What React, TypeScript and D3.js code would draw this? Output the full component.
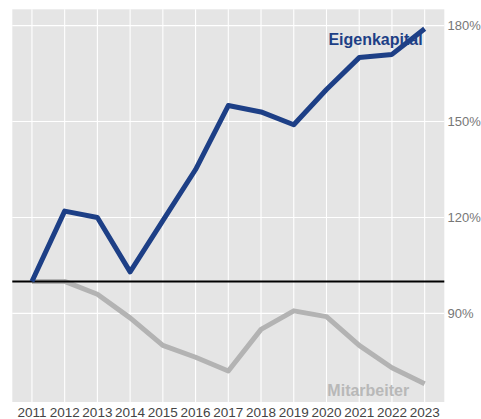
import React from "react";
import * as d3 from "d3";

const years = [2011, 2012, 2013, 2014, 2015, 2016, 2017, 2018, 2019, 2020, 2021, 2022, 2023];
const eigenkapital = [100, 122, 120, 103, 119, 135, 155, 153, 149, 160, 170, 171, 179];
const mitarbeiter = [100, 100, 96, 88.6, 80, 76.3, 72, 85, 90.8, 89, 80, 73, 68];
const yTicks = [90, 120, 150, 180];
const seriesNames = ["Eigenkapital", "Mitarbeiter"];

const W = 481;
const H = 419;
const panel = { left: 12.3, right: 444.3, top: 9.3, bottom: 402 };

export default function App() {
  const x = d3
    .scalePoint<number>()
    .domain(years)
    .range([panel.left, panel.right])
    .padding(0.6);
  const y = d3.scaleLinear().domain([62.3, 185.1]).range([panel.bottom, panel.top]);

  const line = d3
    .line<number>()
    .x((_, i) => x(years[i]) as number)
    .y((d) => y(d));

  const font = "'Liberation Sans', Arial, sans-serif";
  const last = years[years.length - 1];

  return (
    <svg
      width={W}
      height={H}
      style={{ position: "absolute", left: 0, top: 0, background: "#fff" }}
    >
      <rect
        x={panel.left}
        y={panel.top}
        width={panel.right - panel.left}
        height={panel.bottom - panel.top}
        fill="#e5e5e5"
      />
      {yTicks.map((t) => (
        <line
          key={"h" + t}
          x1={panel.left}
          x2={panel.right}
          y1={y(t)}
          y2={y(t)}
          stroke="#fff"
          strokeWidth={1.1}
        />
      ))}
      {years.map((yr) => (
        <line
          key={"v" + yr}
          x1={x(yr)}
          x2={x(yr)}
          y1={panel.top}
          y2={panel.bottom}
          stroke="#fff"
          strokeWidth={1.1}
        />
      ))}
      <path
        d={line(mitarbeiter) || ""}
        fill="none"
        stroke="#b3b3b3"
        strokeWidth={5}
        strokeLinejoin="round"
      />
      <line
        x1={panel.left}
        x2={panel.right}
        y1={y(100)}
        y2={y(100)}
        stroke="#000"
        strokeWidth={2}
      />
      <path
        d={line(eigenkapital) || ""}
        fill="none"
        stroke="#1d3f86"
        strokeWidth={5}
        strokeLinejoin="round"
      />
      <text
        x={(x(last) as number) - 2}
        y={44.5}
        textAnchor="end"
        fontFamily={font}
        fontWeight="bold"
        fontSize={16}
        fill="#1d3f86"
      >
        {seriesNames[0]}
      </text>
      <text
        x={(x(last) as number) - 15.5}
        y={396}
        textAnchor="end"
        fontFamily={font}
        fontWeight="bold"
        fontSize={16}
        fill="#b8b8b8"
      >
        {seriesNames[1]}
      </text>
      {yTicks.map((t) => (
        <text
          key={"yl" + t}
          x={447.5}
          y={y(t) + 4.6}
          fontFamily={font}
          fontSize={13}
          fill="#777"
        >
          {t + "%"}
        </text>
      ))}
      {years.map((yr) => (
        <text
          key={"xl" + yr}
          x={x(yr)}
          y={417.3}
          textAnchor="middle"
          fontFamily={font}
          fontSize={13.5}
          fill="#444"
        >
          {yr}
        </text>
      ))}
    </svg>
  );
}
